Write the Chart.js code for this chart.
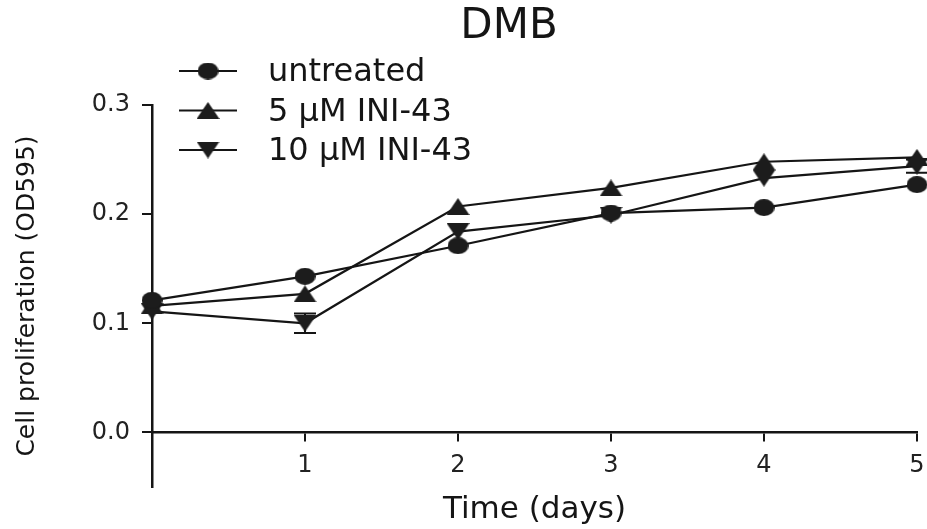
<!DOCTYPE html>
<html><head><meta charset="utf-8">
<style>html,body{margin:0;padding:0;background:#fff;}#wrap{width:927px;height:529px;position:relative;}</style>
<script src="https://cdn.jsdelivr.net/npm/chart.js@4/dist/chart.umd.min.js"></script>
</head><body><div id="wrap"><canvas id="c" width="927" height="529"></canvas></div>
<script>
// ---- data ----
const chartTitle = 'DMB';
const days = [0, 1, 2, 3, 4, 5];
const seriesLabels = ['untreated', '5 µM INI-43', '10 µM INI-43'];
const untreated = [0.121, 0.143, 0.171, 0.201, 0.206, 0.227];
const ini43_5 = [0.116, 0.127, 0.207, 0.224, 0.248, 0.252];
const ini43_10 = [0.111, 0.100, 0.184, 0.199, 0.233, 0.244];
const errUntreated = [0, 0, 0, 0, 0, 0];
const err5 = [0, 0, 0, 0, 0, 0];
const err10 = [0, 0.009, 0, 0, 0, 0.006];
const xTicks = [1, 2, 3, 4, 5];
const yTicks = [0, 0.1, 0.2, 0.3];
const xTitle = 'Time (days)';
const yTitle = 'Cell proliferation (OD595)';

const INK = '#151515';
const FONT = 'DejaVu Sans';

function marker(kind, w, h) {
  const c = document.createElement('canvas');
  c.width = w; c.height = h;
  const g = c.getContext('2d');
  g.fillStyle = '#1c1c1c';
  g.beginPath();
  if (kind === 'circle') g.ellipse(w / 2, h / 2, w / 2, h / 2, 0, 0, Math.PI * 2);
  else if (kind === 'up') { g.moveTo(w / 2, 0); g.lineTo(w, h); g.lineTo(0, h); g.closePath(); }
  else { g.moveTo(0, 0); g.lineTo(w, 0); g.lineTo(w / 2, h); g.closePath(); }
  g.fill();
  return c;
}
const mCircle = marker('circle', 21, 17);
const mUp = marker('up', 23, 17);
const mDown = marker('down', 23, 17);

function pts(arr) { return days.map((d, i) => ({ x: d, y: arr[i] })); }

const seriesValues = [untreated, ini43_5, ini43_10];
const seriesErr = [errUntreated, err5, err10];
const seriesMarkers = [mCircle, mUp, mDown];

const datasets = seriesValues.map((vals, i) => ({
  label: seriesLabels[i],
  data: pts(vals),
  errors: seriesErr[i],
  borderColor: INK,
  borderWidth: 2.2,
  backgroundColor: INK,
  pointStyle: seriesMarkers[i],
  pointRadius: 11,
  pointHoverRadius: 11,
  tension: 0,
  clip: false
}));

const errorBars = {
  id: 'errorBars',
  beforeDatasetsDraw(chart) {
    const ctx = chart.ctx, xs = chart.scales.x, ys = chart.scales.y;
    ctx.save();
    ctx.strokeStyle = INK; ctx.lineWidth = 2;
    chart.data.datasets.forEach(ds => {
      ds.data.forEach((p, i) => {
        const e = ds.errors[i];
        if (!e) return;
        const px = xs.getPixelForValue(p.x);
        const y1 = ys.getPixelForValue(p.y - e), y2 = ys.getPixelForValue(p.y + e);
        ctx.beginPath();
        ctx.moveTo(px, y1); ctx.lineTo(px, y2);
        ctx.moveTo(px - 11, y1); ctx.lineTo(px + 11, y1);
        ctx.moveTo(px - 11, y2); ctx.lineTo(px + 11, y2);
        ctx.stroke();
      });
    });
    ctx.restore();
  }
};

const titleLegend = {
  id: 'titleLegend',
  afterDraw(chart) {
    const ctx = chart.ctx;
    ctx.save();
    ctx.fillStyle = INK;
    ctx.textBaseline = 'middle';
    ctx.textAlign = 'center';
    ctx.font = '42px "' + FONT + '"';
    ctx.fillText(chartTitle, 509, 27);
    ctx.textAlign = 'left';
    ctx.font = '32px "' + FONT + '"';
    chart.data.datasets.forEach((ds, i) => {
      const yc = 73 + i * 39.5;
      const ym = yc - 2;
      ctx.strokeStyle = INK; ctx.lineWidth = 2;
      ctx.beginPath(); ctx.moveTo(179, ym); ctx.lineTo(237, ym); ctx.stroke();
      const img = ds.pointStyle;
      ctx.drawImage(img, 208 - img.width / 2, ym - img.height / 2);
      ctx.fillText(ds.label, 268, yc);
    });
    ctx.restore();
  }
};

new Chart(document.getElementById('c'), {
  type: 'line',
  data: { datasets },
  plugins: [errorBars, titleLegend],
  options: {
    responsive: false,
    animation: false,
    events: [],
    layout: { autoPadding: false, padding: { top: 105, right: 10, bottom: 42, left: 0 } },
    plugins: { legend: { display: false }, title: { display: false }, tooltip: { enabled: false } },
    scales: {
      x: {
        type: 'linear', min: 0, max: 5,
        position: { y: 0 },
        afterBuildTicks(s) { s.ticks = xTicks.map(v => ({ value: v })); },
        afterFit(s) { s.paddingLeft = 0; s.paddingRight = 0; },
        grid: { drawOnChartArea: false, drawTicks: true, tickLength: 8, color: INK, lineWidth: 2 },
        border: { display: true, color: INK, width: 2.5 },
        ticks: { font: { family: FONT, size: 24 }, color: '#222', padding: 11, maxRotation: 0, autoSkip: false, callback: v => String(v) },
        title: { display: true, text: xTitle, font: { family: FONT, size: 31 }, color: INK, padding: { top: 0, bottom: 0 } }
      },
      y: {
        type: 'linear', min: -0.05, max: 0.3,
        afterBuildTicks(s) { s.ticks = yTicks.map(v => ({ value: v })); },
        afterFit(s) { s.width = 152; },
        grid: { drawOnChartArea: false, drawTicks: true, tickLength: 10, color: INK, lineWidth: 2 },
        border: { display: true, color: INK, width: 2.5 },
        ticks: { font: { family: FONT, size: 24 }, color: '#222', padding: 12, autoSkip: false, callback: v => Number(v).toFixed(1) },
        title: { display: true, text: yTitle, font: { family: FONT, size: 25 }, color: INK, padding: { top: 12, bottom: 0 } }
      }
    }
  }
});
</script>
</body></html>
